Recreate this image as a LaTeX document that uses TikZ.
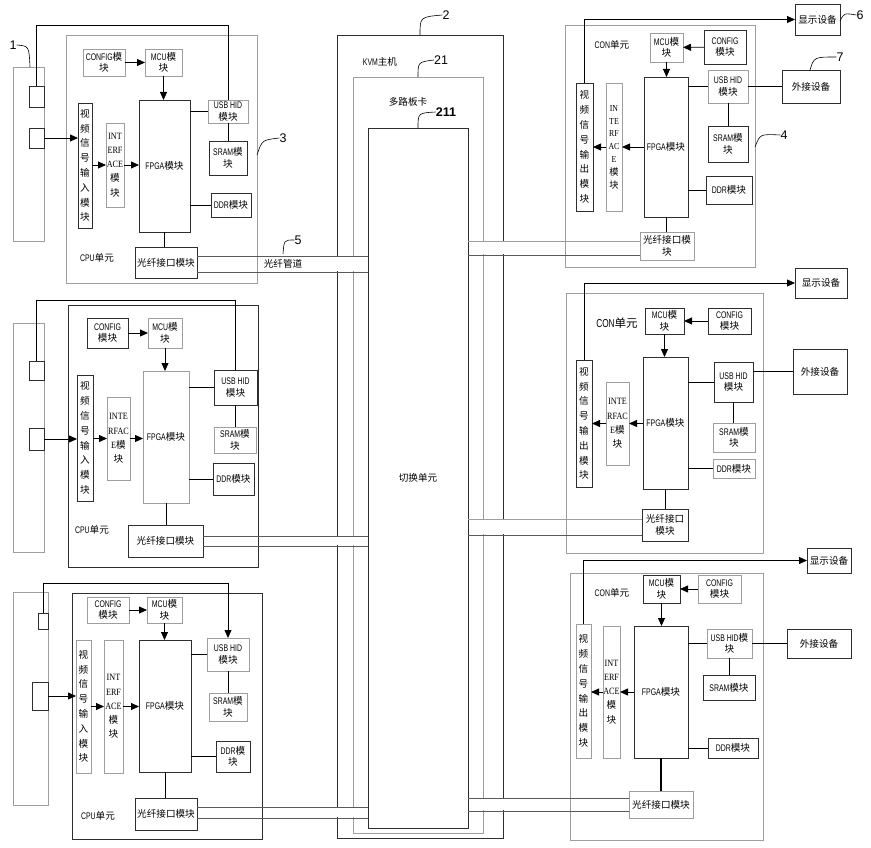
\documentclass[tikz,border=0pt]{standalone}
\usepackage{fontspec}
\setmainfont{Noto Sans CJK SC}
\newfontfamily\numfont{Liberation Sans}
\newfontfamily\latf{Liberation Sans}[FakeStretch=0.72]
\newfontfamily\serf{Liberation Serif}[FakeStretch=0.85]
\newcommand\lx[1]{{\latf #1}}
\newcommand\sx[1]{{\serf #1}}
\usetikzlibrary{arrows.meta}
\definecolor{gl}{gray}{0.62}
\definecolor{dk}{gray}{0.18}
\tikzset{
 base/.style={draw, inner sep=0pt, outer sep=0pt, align=center, font=\fontsize{9.6}{11.5}\selectfont, line width=0.7pt},
 gbox/.style={base, draw=gl},
 bbox/.style={base, draw=dk},
 vtext/.style={font=\fontsize{9.6}{14.8}\selectfont},
 itext/.style={font=\fontsize{9.6}{14.2}\selectfont},
 itextb/.style={font=\fontsize{9.2}{12.8}\selectfont},
 wire/.style={draw=black, line width=0.8pt},
 arr/.style={wire, -{Triangle[length=8pt,width=7pt]}},
 lbl/.style={font=\numfont\fontsize{12.5}{12.5}\selectfont, inner sep=0pt},
 lead/.style={draw=black, line width=0.6pt},
 plain/.style={font=\fontsize{9.6}{11}\selectfont, inner sep=0pt},
 bandline/.style={draw=black!65, line width=0.7pt},
}
\newcommand\bx[7]{\node[#6,anchor=north west,minimum width={#4pt-#2pt},minimum height={#5pt-#3pt}] (#1) at (#2,#3) {#7};}
\begin{document}
\begin{tikzpicture}[x=1pt,y=-1pt]
\useasboundingbox (0,0) rectangle (871,848);
% ================= KVM host =================
\bx{k2}{337}{35}{503}{838}{bbox}{}
\bx{k21}{353}{77}{483}{833}{gbox}{}
\fill[white] (335,256.6) rectangle (367,271.4);
\fill[white] (335,536.6) rectangle (367,545.4);
\fill[white] (335,807.6) rectangle (367,817.4);
\fill[white] (469,241.6) rectangle (505,254.4);
\fill[white] (469,519.6) rectangle (505,534.4);
\fill[white] (469,798.6) rectangle (505,810.4);
\bx{sw}{368}{128}{468}{828}{bbox}{切换单元}
\node[plain] (kvmt) at (380,62) {\lx{KVM}主机};
\node[plain] (cardt) at (408,102) {多路板卡};

% ================= CPU 1 =================
\bx{dev1}{13}{67}{44}{241}{gbox}{}
\bx{p11}{29}{86}{44}{107}{bbox}{}
\bx{p12}{29}{128}{44}{148}{bbox}{}
\bx{cpu1}{66}{35}{257}{283}{gbox}{}
\bx{cfg1}{83}{49}{125}{76}{gbox}{\lx{CONFIG}模\\块}
\bx{mcu1}{145}{49}{182}{76}{gbox}{\lx{MCU}模\\块}
\bx{f1}{139}{100}{190}{232}{bbox}{\lx{FPGA}模块}
\bx{u1}{208}{100}{248}{123}{gbox}{\lx{USB HID}\\模块}
\bx{s1}{209}{141}{247}{175}{bbox}{\lx{SRAM}模\\块}
\bx{dd1}{211}{193}{251}{217}{bbox}{\lx{DDR}模块}
\bx{v1}{78}{103}{92}{228}{bbox,vtext}{视\\频\\信\\号\\输\\入\\模\\块}
\bx{i1}{106}{123}{124}{207}{gbox,itext}{\sx{INT}\\\sx{ERF}\\\sx{ACE}\\模\\块}
\bx{o1}{135}{247}{197}{278}{bbox}{光纤接口模块}
\node[plain] (cput1) at (97,258) {\lx{CPU}单元};
\coordinate (w1) at (0,25);
\draw[wire] (p11.north) |- (u1.north |- w1) -- (u1.north);
\draw[arr] (cfg1) -- (mcu1);
\draw[arr] (mcu1.south) -- (mcu1.south |- f1.north);
\draw[arr] (p12.east) -- (p12.east -| v1.west);
\draw[arr] (v1.east |- i1.west) -- (i1.west);
\draw[arr] (i1.east) -- (i1.east -| f1.west);
\draw[wire] (f1.east |- u1.west) -- (u1.west);
\draw[wire] (u1.south) -- (u1.south |- s1.north);
\draw[wire] (f1.east |- dd1.west) -- (dd1.west);
\draw[wire] (f1.south) -- (f1.south |- o1.north);
\draw[bandline] (o1.east |- 0,256) -- (sw.west |- 0,256);
\draw[bandline] (o1.east |- 0,272) -- (sw.west |- 0,272);
\node[plain] (pipe) at (283,264) {光纤管道};

% ================= CPU 2 =================
\bx{dev2}{13}{323}{44}{552}{gbox}{}
\bx{p21}{29}{361}{44}{380}{bbox}{}
\bx{p22}{29}{428}{44}{450}{bbox}{}
\bx{cpu2}{68}{305}{258}{567}{bbox}{}
\bx{cfg2}{87}{318}{128}{348}{bbox}{\lx{CONFIG}\\模块}
\bx{mcu2}{148}{318}{182}{348}{gbox}{\lx{MCU}模\\块}
\bx{f2}{143}{371}{189}{503}{gbox}{\lx{FPGA}模块}
\bx{u2}{214}{370}{257}{405}{bbox}{\lx{USB HID}\\模块}
\bx{s2}{214}{427}{256}{453}{gbox}{\lx{SRAM}模\\块}
\bx{dd2}{213}{463}{254}{495}{bbox}{\lx{DDR}模块}
\bx{v2}{77}{375}{93}{501}{bbox,vtext}{视\\频\\信\\号\\输\\入\\模\\块}
\bx{i2}{107}{397}{130}{480}{gbox,itext}{\sx{INTE}\\\sx{RFAC}\\\sx{E}模\\块}
\bx{o2}{128}{525}{203}{557}{bbox}{光纤接口模块}
\node[plain] (cput2) at (92,530) {\lx{CPU}单元};
\coordinate (w2) at (0,300);
\draw[wire] (p21.north) |- (u2.north |- w2) -- (u2.north);
\draw[arr] (cfg2) -- (mcu2);
\draw[arr] (mcu2.south) -- (mcu2.south |- f2.north);
\draw[arr] (p22.east) -- (p22.east -| v2.west);
\draw[arr] (v2.east |- i2.west) -- (i2.west);
\draw[arr] (i2.east) -- (i2.east -| f2.west);
\draw[wire] (f2.east |- u2.west) -- (u2.west);
\draw[wire] (u2.south) -- (u2.south |- s2.north);
\draw[wire] (f2.east |- dd2.west) -- (dd2.west);
\draw[wire] (f2.south) -- (f2.south |- o2.north);
\draw[bandline] (o2.east |- 0,536) -- (sw.west |- 0,536);
\draw[bandline] (o2.east |- 0,546) -- (sw.west |- 0,546);

% ================= CPU 3 =================
\bx{dev3}{13}{592}{48}{805}{gbox}{}
\bx{p31}{38}{613}{48}{629}{bbox}{}
\bx{p32}{32}{682}{48}{710}{bbox}{}
\bx{cpu3}{72}{593}{262}{839}{bbox}{}
\bx{cfg3}{87}{597}{129}{623}{gbox}{\lx{CONFIG}\\模块}
\bx{mcu3}{147}{597}{182}{623}{gbox}{\lx{MCU}模\\块}
\bx{f3}{139}{640}{191}{772}{bbox}{\lx{FPGA}模块}
\bx{u3}{207}{638}{249}{671}{gbox}{\lx{USB HID}\\模块}
\bx{s3}{209}{693}{247}{721}{gbox}{\lx{SRAM}模\\块}
\bx{dd3}{216}{741}{250}{772}{bbox}{\lx{DDR}模\\块}
\bx{v3}{76}{640}{91}{773}{gbox,vtext}{视\\频\\信\\号\\输\\入\\模\\块}
\bx{i3}{104}{640}{123}{773}{gbox,itext}{\sx{INT}\\\sx{ERF}\\\sx{ACE}\\模\\块}
\bx{o3}{135}{798}{197}{830}{bbox}{光纤接口模块}
\node[plain] (cput3) at (98,816) {\lx{CPU}单元};
\coordinate (w3) at (0,583);
\draw[arr] (p31.north) |- (u3.north |- w3) -- (u3.north);
\draw[arr] (cfg3) -- (mcu3);
\draw[arr] (mcu3.south) -- (mcu3.south |- f3.north);
\draw[arr] (p32.east) -- (p32.east -| v3.west);
\draw[arr] (v3.east |- i3.west) -- (i3.west);
\draw[arr] (i3.east) -- (i3.east -| f3.west);
\draw[wire] (f3.east |- u3.west) -- (u3.west);
\draw[wire] (u3.south) -- (u3.south |- s3.north);
\draw[wire] (f3.east |- dd3.west) -- (dd3.west);
\draw[wire] (f3.south) -- (f3.south |- o3.north);
\draw[bandline] (o3.east |- 0,807) -- (sw.west |- 0,807);
\draw[bandline] (o3.east |- 0,818) -- (sw.west |- 0,818);

% ================= CON 1 =================
\bx{con1}{565}{25}{755}{267}{gbox}{}
\bx{cm1}{650}{33}{683}{62}{gbox}{\lx{MCU}模\\块}
\bx{cc1}{704}{30}{746}{64}{bbox}{\lx{CONFIG}\\模块}
\bx{cf1}{644}{77}{688}{217}{bbox}{\lx{FPGA}模块}
\bx{cu1}{708}{70}{748}{103}{gbox}{\lx{USB HID}\\模块}
\bx{cs1}{708}{126}{748}{162}{bbox}{\lx{SRAM}模\\块}
\bx{cd1}{706}{176}{752}{204}{bbox}{\lx{DDR}模块}
\bx{cv1}{576}{83}{593}{211}{bbox,vtext}{视\\频\\信\\号\\输\\出\\模\\块}
\bx{ci1}{606}{83}{622}{211}{gbox,itextb}{\sx{IN}\\\sx{TE}\\\sx{RF}\\\sx{AC}\\\sx{E}\\模\\块}
\bx{co1}{640}{232}{694}{260}{gbox}{光纤接口模\\块}
\bx{disp1}{795}{4}{840}{35}{bbox}{显示设备}
\bx{ext1}{782}{70}{840}{103}{bbox}{外接设备}
\node[plain] (cont1) at (612,45) {\lx{CON}单元};
\draw[arr] (cc1) -- (cm1);
\draw[arr] (cm1.south) -- (cm1.south |- cf1.north);
\draw[arr] (cf1.west |- ci1.east) -- (ci1.east);
\draw[arr] (ci1.west) -- (ci1.west -| cv1.east);
\draw[arr] (cv1.north) |- (disp1.west);
\draw[wire] (cu1.west) -- (cu1.west -| cf1.east);
\draw[wire] (cu1.east) -- (ext1.west);
\draw[wire] (cu1.south) -- (cu1.south |- cs1.north);
\draw[wire] (cd1.west) -- (cd1.west -| cf1.east);
\draw[wire] (cf1.south) -- (cf1.south |- co1.north);
\draw[draw=gl, line width=0.7pt] (sw.east |- 0,241) -- (co1.west |- 0,241);
\draw[bandline] (sw.east |- 0,255) -- (co1.west |- 0,255);

% ================= CON 2 =================
\bx{con2}{566}{293}{763}{553}{gbox}{}
\bx{cm2}{645}{308}{684}{334}{bbox}{\lx{MCU}模\\块}
\bx{cc2}{708}{308}{751}{334}{bbox}{\lx{CONFIG}\\模块}
\bx{cf2}{643}{357}{688}{489}{bbox}{\lx{FPGA}模块}
\bx{cu2}{714}{362}{753}{402}{bbox}{\lx{USB HID}\\模块}
\bx{cs2}{713}{423}{755}{452}{gbox}{\lx{SRAM}模\\块}
\bx{cd2}{713}{459}{755}{478}{gbox}{\lx{DDR}模块}
\bx{cv2}{576}{360}{592}{487}{bbox,vtext}{视\\频\\信\\号\\输\\出\\模\\块}
\bx{ci2}{606}{382}{629}{465}{gbox,itext}{\sx{INTE}\\\sx{RFAC}\\\sx{E}模\\块}
\bx{co2}{642}{509}{688}{541}{bbox}{光纤接口\\模块}
\bx{disp2}{795}{268}{847}{298}{bbox}{显示设备}
\bx{ext2}{793}{349}{847}{394}{bbox}{外接设备}
\node[plain, font=\fontsize{11.5}{12}\selectfont] (cont2) at (617,323) {\lx{CON}单元};
\draw[arr] (cc2) -- (cm2);
\draw[arr] (cm2.south) -- (cm2.south |- cf2.north);
\draw[arr] (cf2.west |- ci2.east) -- (ci2.east);
\draw[arr] (ci2.west) -- (ci2.west -| cv2.east);
\draw[arr] (cv2.north) |- (disp2.west);
\draw[wire] (cu2.west) -- (cu2.west -| cf2.east);
\draw[wire] (ext2.west) -- (ext2.west -| cu2.east);
\draw[wire] (cu2.south) -- (cu2.south |- cs2.north);
\draw[wire] (cd2.west) -- (cd2.west -| cf2.east);
\draw[wire] (cf2.south) -- (cf2.south |- co2.north);
\draw[draw=gl, line width=0.7pt] (sw.east |- 0,519) -- (co2.west |- 0,519);
\draw[bandline] (sw.east |- 0,535) -- (co2.west |- 0,535);

% ================= CON 3 =================
\bx{con3}{570}{573}{763}{840}{gbox}{}
\bx{cm3}{643}{575}{680}{603}{bbox}{\lx{MCU}模\\块}
\bx{cc3}{698}{575}{741}{603}{gbox}{\lx{CONFIG}\\模块}
\bx{cf3}{634}{626}{688}{758}{bbox}{\lx{FPGA}模块}
\bx{cu3}{707}{629}{752}{658}{gbox}{\lx{USB HID}模\\块}
\bx{cs3}{703}{675}{755}{700}{bbox}{\lx{SRAM}模块}
\bx{cd3}{708}{738}{758}{758}{bbox}{\lx{DDR}模块}
\bx{cv3}{576}{624}{591}{758}{gbox,vtext}{视\\频\\信\\号\\输\\出\\模\\块}
\bx{ci3}{603}{626}{620}{758}{gbox,itext}{\sx{INT}\\\sx{ERF}\\\sx{ACE}\\模\\块}
\bx{co3}{629}{791}{693}{818}{gbox}{光纤接口模块}
\bx{disp3}{807}{548}{851}{573}{bbox}{显示设备}
\bx{ext3}{787}{629}{851}{658}{bbox}{外接设备}
\node[plain] (cont3) at (612,593) {\lx{CON}单元};
\draw[arr] (cc3) -- (cm3);
\draw[arr] (cm3.south) -- (cm3.south |- cf3.north);
\draw[arr] (cf3.west |- ci3.east) -- (ci3.east);
\draw[arr] (ci3.west) -- (ci3.west -| cv3.east);
\draw[arr] (cv3.north) |- (disp3.west);
\draw[wire] (cu3.west) -- (cu3.west -| cf3.east);
\draw[wire] (cu3.east) -- (ext3.west);
\draw[wire] (cu3.south) -- (cu3.south |- cs3.north);
\draw[wire] (cd3.west) -- (cd3.west -| cf3.east);
\draw[wire, line width=1.4pt] (cf3.south) -- (cf3.south |- co3.north);
\draw[bandline] (sw.east |- 0,798) -- (co3.west |- 0,798);
\draw[bandline] (sw.east |- 0,811) -- (co3.west |- 0,811);

% ================= reference labels =================
\node[lbl] (L1) at (13,45) {1};
\coordinate (L1e) at (30,67);
\draw[lead] (L1.east) .. controls (29,46) .. (L1e);
\node[lbl] (L2) at (446,15) {2};
\coordinate (L2e) at (420,35);
\draw[lead] (L2e) .. controls (420,17) .. (L2.west);
\node[lbl] (L21) at (441,60) {21};
\coordinate (L21e) at (418,77);
\draw[lead] (L21e) .. controls (418,62) .. (L21.west);
\node[lbl, font=\numfont\bfseries\fontsize{12.5}{12.5}\selectfont] (L211) at (446,112) {211};
\coordinate (L211e) at (418,128);
\draw[lead] (L211e) .. controls (418,113) .. (L211.west);
\node[lbl] (L3) at (283,138) {3};
\coordinate (L3e) at (257,155);
\draw[lead] (L3e) .. controls (262,140) .. (L3.west);
\node[lbl] (L4) at (784,135) {4};
\coordinate (L4e) at (755,147);
\draw[lead] (L4e) .. controls (760,134) .. (L4.west);
\node[lbl] (L5) at (298,240) {5};
\coordinate (L5e) at (283,254);
\draw[lead] (L5e) .. controls (284,240) .. (L5.west);
\node[lbl] (L6) at (860,15) {6};
\coordinate (L6e) at (840,21);
\draw[lead] (L6e) .. controls (844,13) .. (L6.west);
\node[lbl] (L7) at (840,57) {7};
\coordinate (L7e) at (810,70);
\draw[lead] (L7e) .. controls (814,57) .. (L7.west);
\end{tikzpicture}
\end{document}
